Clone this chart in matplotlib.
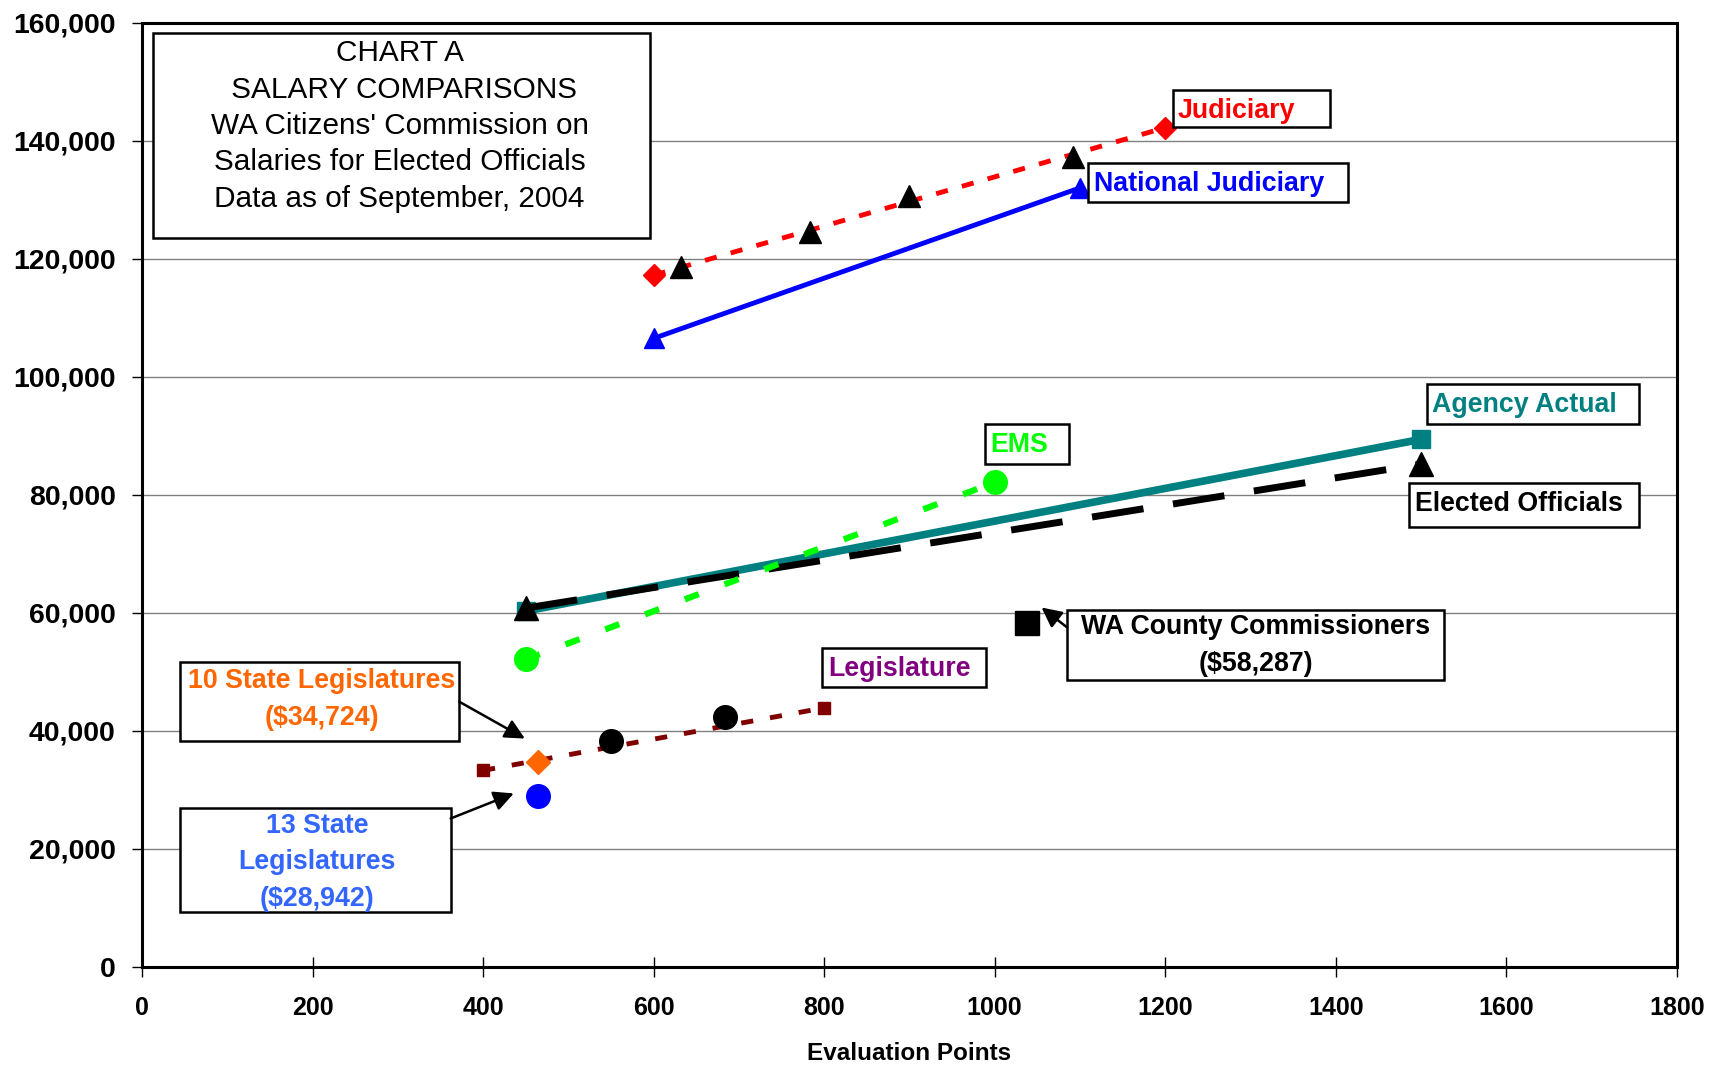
import matplotlib.pyplot as plt
from matplotlib.patches import Rectangle
from matplotlib.ticker import FuncFormatter

plt.rcParams['font.family'] = ['Liberation Sans', 'DejaVu Sans']

# series data (evaluation points, salary)
judiciary_x = [600, 1200]
judiciary_y = [117200, 142200]
state_judiciary_x = [632, 784, 900, 1092]
state_judiciary_y = [118600, 124500, 130600, 137300]
national_x = [600, 1100]
national_y = [106500, 132000]
ems_x = [450, 1000]
ems_y = [52100, 82100]
agency_x = [450, 1500]
agency_y = [60300, 89400]
elected_x = [450, 1500]
elected_y = [60800, 85200]
legis_x = [400, 800]
legis_y = [33300, 43900]
legis_pts_x = [550, 684]
legis_pts_y = [38300, 42400]
ten_state = (465, 34724)
thirteen_state = (465, 28942)
county = (1038, 58287)

x_ticks = list(range(0, 1801, 200))
y_ticks = list(range(0, 160001, 20000))

fig = plt.figure(figsize=(17.11, 10.78), dpi=100)
ax = fig.add_axes([0.083, 0.103, 0.897, 0.876])

ax.set_xlim(0, 1800)
ax.set_ylim(0, 160000)
ax.set_xticks(x_ticks)
ax.set_yticks(y_ticks)
ax.yaxis.set_major_formatter(FuncFormatter(lambda v, p: f'{int(v):,}'))
ax.grid(axis='y', color='#808080', lw=1)
ax.set_axisbelow(True)
for s in ax.spines.values():
    s.set_linewidth(2.2)
ax.tick_params(axis='y', direction='out', length=7, width=1, pad=12, labelsize=20.5)
ax.tick_params(axis='x', direction='inout', length=14, width=1, pad=14, labelsize=18)
for lab in ax.get_xticklabels() + ax.get_yticklabels():
    lab.set_fontweight('bold')
ax.set_xlabel('Evaluation Points', fontsize=17.5, fontweight='bold', labelpad=16)

# lines
ax.plot(judiciary_x, judiciary_y, color='#FF0000', lw=3.5, ls=(0, (2.5, 3)),
        marker='D', ms=11, zorder=4)
ax.plot(state_judiciary_x, state_judiciary_y, ls='none', marker='^', ms=16,
        color='black', zorder=5)
ax.plot(national_x, national_y, color='#0000FF', lw=3.5, marker='^', ms=14, zorder=4)
ax.plot(agency_x, agency_y, color='#008080', lw=5.5, marker='s', ms=13, zorder=3)
ax.plot(elected_x, elected_y, color='black', lw=5, ls=(0, (7.5, 4.3)),
        marker='^', ms=17, zorder=4)
ax.plot(ems_x, ems_y, color='#00FF00', lw=4.5, ls=(0, (2.4, 4.4)),
        marker='o', ms=17, zorder=4)
ax.plot(legis_x, legis_y, color='#800000', lw=3.5, ls=(0, (2.5, 3.5)),
        marker='s', ms=9, zorder=4)
ax.plot(legis_pts_x, legis_pts_y, ls='none', marker='o', ms=17, color='black', zorder=5)
ax.plot(*ten_state, marker='D', ms=12.5, color='#FF6600', zorder=5)
ax.plot(*thirteen_state, marker='o', ms=17, color='#0000FF', zorder=5)
ax.plot(*county, marker='s', ms=17, color='black', zorder=5)


def box(x0, y0, x1, y1):
    ax.add_patch(Rectangle((x0, y0), x1 - x0, y1 - y0, facecolor='white',
                           edgecolor='black', lw=1.8, zorder=6))


# title box
box(13, 123500, 596, 158300)
ax.text(302, 142500, "CHART A\n SALARY COMPARISONS\nWA Citizens' Commission on\n"
        "Salaries for Elected Officials\nData as of September, 2004",
        ha='center', va='center', multialignment='center', fontsize=21.4,
        linespacing=1.38, zorder=7)

# labels
labels = [
    ((1209, 142250, 1393, 148540), 'Judiciary', '#FF0000', 1215, 145050),
    ((1109, 129680, 1414, 136150), 'National Judiciary', '#0000FF', 1116, 132700),
    ((1507, 91935, 1756, 98780), 'Agency Actual', '#008080', 1513, 95250),
    ((989, 85275, 1087, 91935), 'EMS', '#00FF00', 995, 88400),
    ((1486, 74550, 1756, 81950), 'Elected Officials', 'black', 1493, 78400),
    ((798, 47355, 990, 54010), 'Legislature', '#800080', 805, 50500),
]
for (x0, y0, x1, y1), txt, col, tx, ty in labels:
    box(x0, y0, x1, y1)
    ax.text(tx, ty, txt, color=col, fontsize=19.3, fontweight='bold',
            ha='left', va='center', zorder=7)

box(1085, 48650, 1527, 60490)
ax.text(1306, 54400, 'WA County Commissioners\n($58,287)', color='black',
        fontsize=19.3, fontweight='bold', ha='center', va='center',
        linespacing=1.54, zorder=7)

box(45, 38290, 372, 51610)
ax.text(211, 45300, '10 State Legislatures\n($34,724)', color='#FF6600',
        fontsize=19.3, fontweight='bold', ha='center', va='center',
        linespacing=1.54, zorder=7)

box(45, 9250, 362, 27007)
ax.text(205, 17700, '13 State\nLegislatures\n($28,942)', color='#3366FF',
        fontsize=19.3, fontweight='bold', ha='center', va='center',
        linespacing=1.54, zorder=7)

# arrows
arrow = dict(arrowstyle='-|>', color='black', lw=1.8, mutation_scale=30,
             shrinkA=0, shrinkB=0)
ax.annotate('', xy=(449, 38700), xytext=(372, 44950), arrowprops=arrow, zorder=7)
ax.annotate('', xy=(436, 29400), xytext=(362, 25160), arrowprops=arrow, zorder=7)
ax.annotate('', xy=(1055, 60900), xytext=(1085, 57530), arrowprops=arrow, zorder=7)

fig.savefig('out.png', dpi=100)
